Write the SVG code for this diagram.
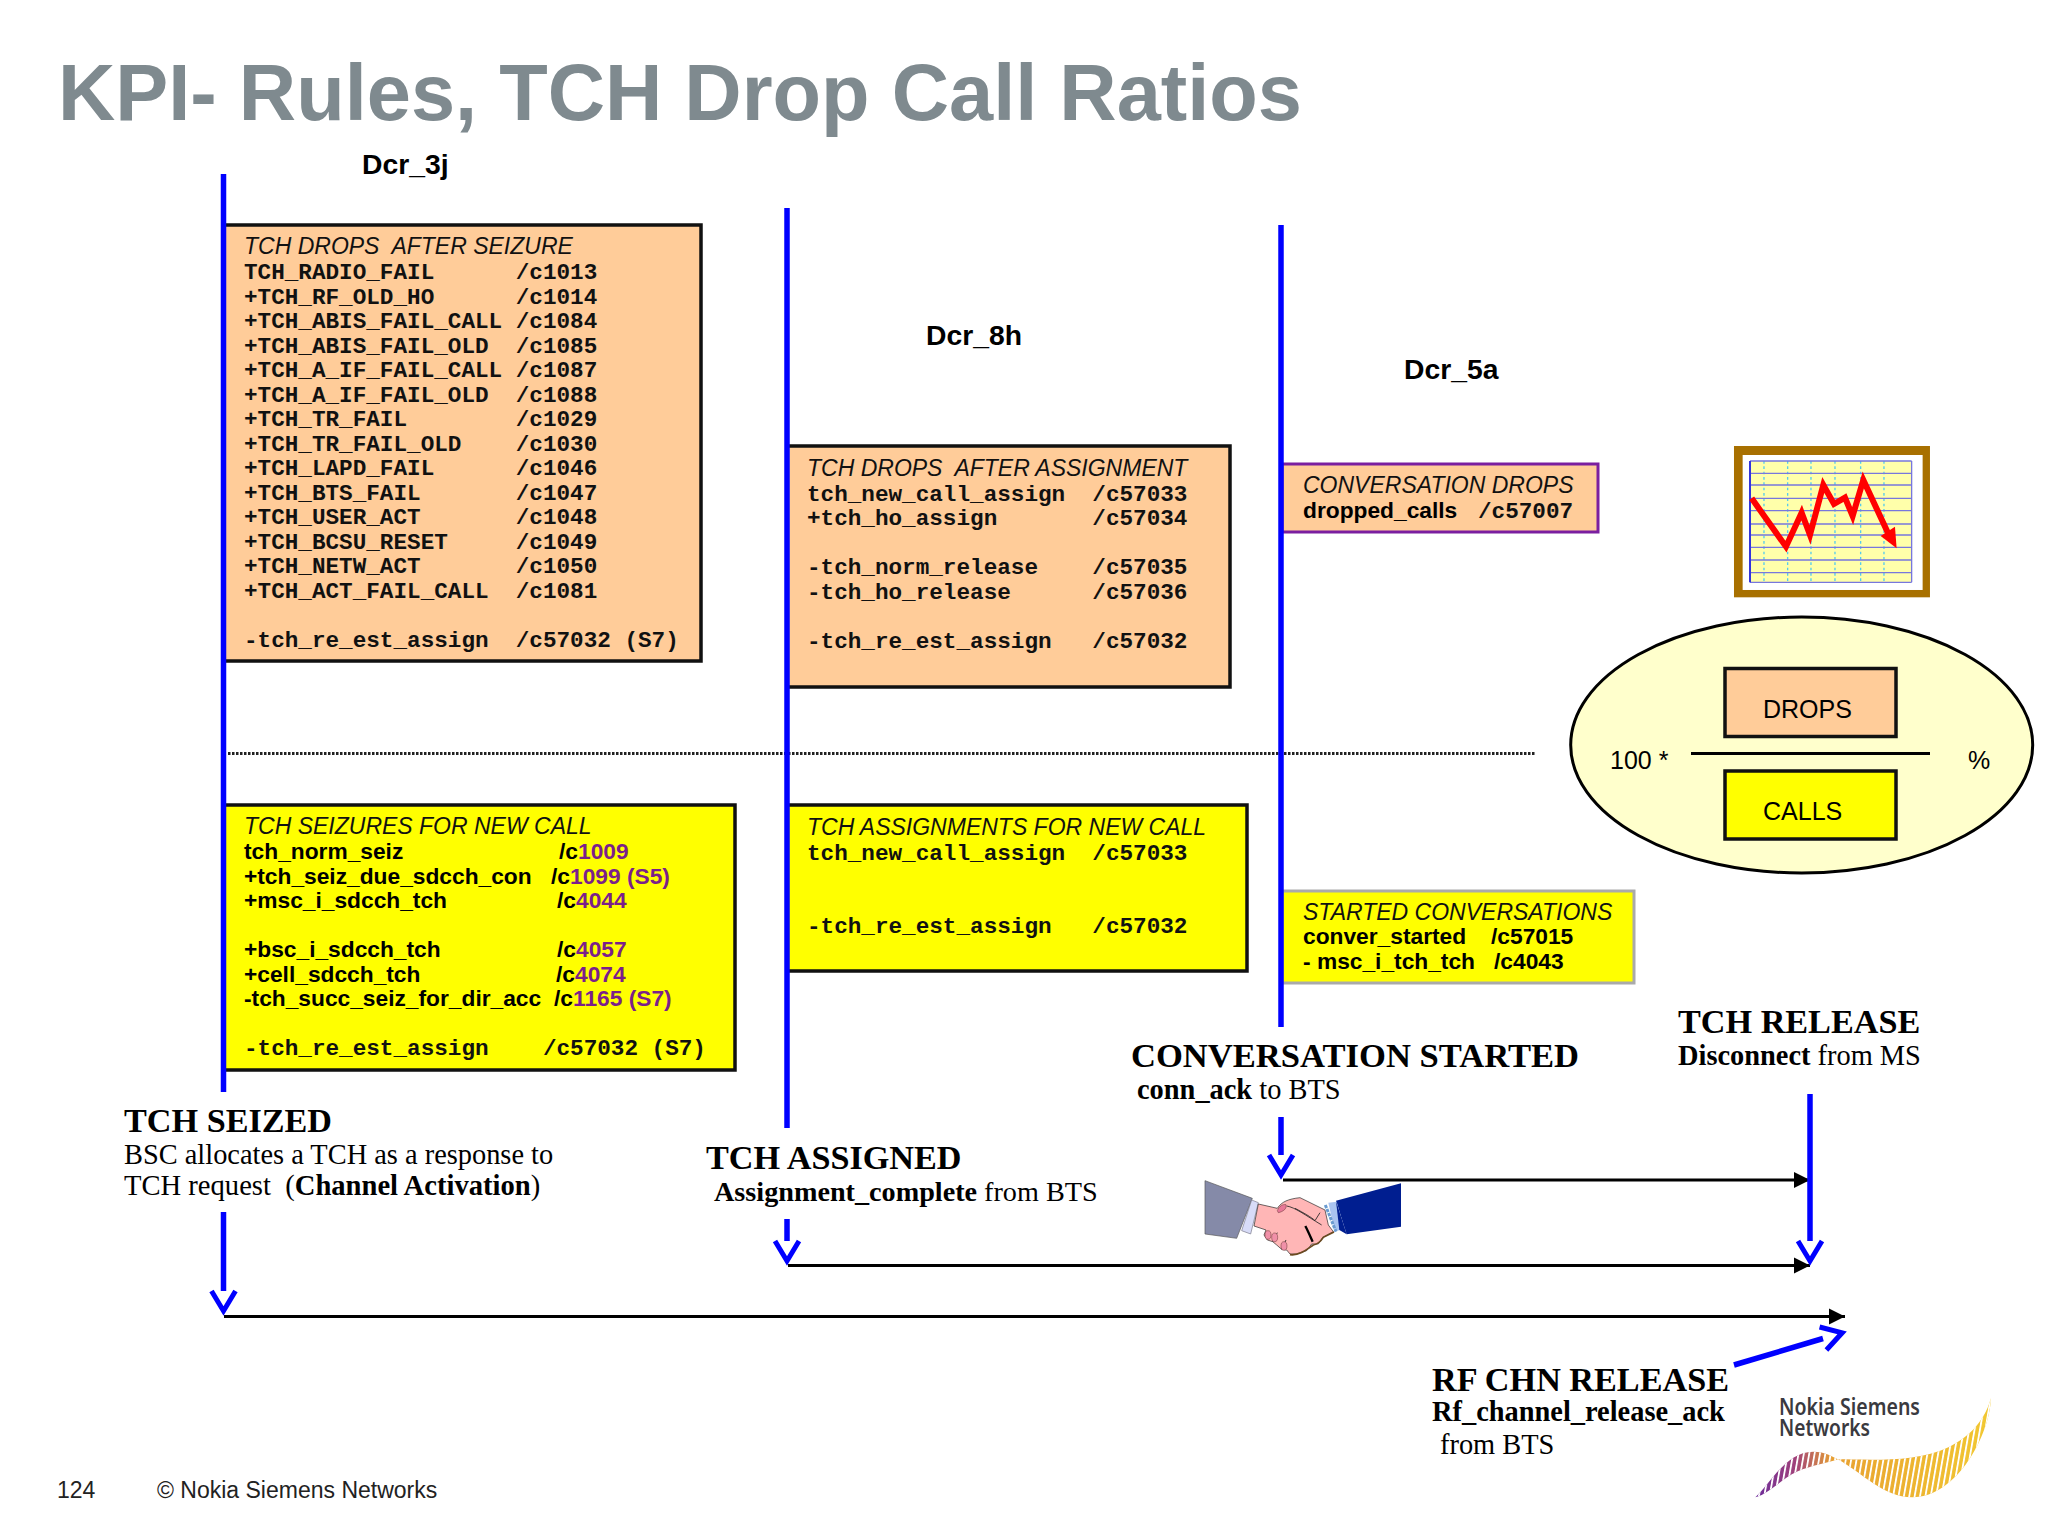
<svg xmlns="http://www.w3.org/2000/svg" width="2048" height="1536" viewBox="0 0 2048 1536">
<style>
text{white-space:pre}
.h{font:italic 23px "Liberation Sans",Arial,sans-serif;fill:#111}
.m{font:bold 22.65px "Liberation Mono","Courier New",monospace;fill:#111}
.b{font:bold 22.75px "Liberation Sans",Arial,sans-serif;fill:#000}
.p{fill:#7b1f8a}
.dcr{font:bold 28.3px "Liberation Sans",Arial,sans-serif;fill:#000}
.st{font:bold 34.2px "Liberation Serif","Times New Roman",serif;fill:#000}
.s{font:28.4px "Liberation Serif","Times New Roman",serif;fill:#000}
.sb{font-weight:bold}
.f{font:25px "Liberation Sans",Arial,sans-serif;fill:#000}
.o{fill:#ffcc99;stroke:#111;stroke-width:3.5}
.y{fill:#ffff00;stroke:#111;stroke-width:3.5}
.bl{fill:none;stroke:#0000ff;stroke-width:5.5}
.bk{fill:none;stroke:#000;stroke-width:3}
.logo{font:600 23px "Noto Sans","Liberation Sans",sans-serif;fill:#3a3a40}
.ft{font:23px "Liberation Sans",Arial,sans-serif;fill:#222}
</style>
<defs>
<marker id="open" markerUnits="userSpaceOnUse" markerWidth="44" markerHeight="44" viewBox="-6 -22 44 44" refX="0" refY="0" orient="auto"><path d="M0,-12 L20,0 L0,12" fill="none" stroke="#0000ff" stroke-width="5"/></marker>
<marker id="solid" markerUnits="userSpaceOnUse" markerWidth="20" markerHeight="20" viewBox="-16 -10 20 20" refX="0" refY="0" orient="auto"><path d="M-16,-8 L0,0 L-16,8 Z" fill="#000"/></marker>
<linearGradient id="wave" gradientUnits="userSpaceOnUse" x1="860" y1="0" x2="1430" y2="0"><stop offset="0" stop-color="#6a2a9a"/><stop offset=".17" stop-color="#a0407a"/><stop offset=".33" stop-color="#e8a030"/><stop offset="1" stop-color="#f2c830"/></linearGradient>
<pattern id="stripes" patternUnits="userSpaceOnUse" width="13" height="20" patternTransform="skewX(-8)"><rect width="4.5" height="20" fill="#fff"/></pattern>
</defs>
<rect width="2048" height="1536" fill="#fff"/>
<text x="58" y="120" style="font:bold 79.4px 'Liberation Sans',Arial,sans-serif;fill:#7f8a8f">KPI- Rules, TCH Drop Call Ratios</text>
<text class="dcr" x="362" y="174">Dcr_3j</text>
<text class="dcr" x="926" y="345">Dcr_8h</text>
<text class="dcr" x="1404" y="379">Dcr_5a</text>

<g id="box-drops-seizure">
<rect class="o" x="224" y="225" width="477" height="436"/>
<text class="h" x="244" y="254">TCH DROPS  AFTER SEIZURE</text>
<text class="m" x="244" y="279">TCH_RADIO_FAIL      /c1013</text>
<text class="m" x="244" y="303.5">+TCH_RF_OLD_HO      /c1014</text>
<text class="m" x="244" y="328">+TCH_ABIS_FAIL_CALL /c1084</text>
<text class="m" x="244" y="352.5">+TCH_ABIS_FAIL_OLD  /c1085</text>
<text class="m" x="244" y="377">+TCH_A_IF_FAIL_CALL /c1087</text>
<text class="m" x="244" y="401.5">+TCH_A_IF_FAIL_OLD  /c1088</text>
<text class="m" x="244" y="426">+TCH_TR_FAIL        /c1029</text>
<text class="m" x="244" y="450.5">+TCH_TR_FAIL_OLD    /c1030</text>
<text class="m" x="244" y="475">+TCH_LAPD_FAIL      /c1046</text>
<text class="m" x="244" y="499.5">+TCH_BTS_FAIL       /c1047</text>
<text class="m" x="244" y="524">+TCH_USER_ACT       /c1048</text>
<text class="m" x="244" y="548.5">+TCH_BCSU_RESET     /c1049</text>
<text class="m" x="244" y="573">+TCH_NETW_ACT       /c1050</text>
<text class="m" x="244" y="597.5">+TCH_ACT_FAIL_CALL  /c1081</text>
<text class="m" x="244" y="646.5">-tch_re_est_assign  /c57032 (S7)</text>
</g>

<g id="box-seizures">
<rect class="y" x="224" y="805" width="511" height="265"/>
<text class="h" x="244" y="834">TCH SEIZURES FOR NEW CALL</text>
<text class="b" x="244" y="859">tch_norm_seiz</text><text class="b" x="559" y="859">/c<tspan class="p">1009</tspan></text>
<text class="b" x="244" y="883.5">+tch_seiz_due_sdcch_con</text><text class="b" x="551" y="883.5">/c<tspan class="p">1099 (S5)</tspan></text>
<text class="b" x="244" y="908">+msc_i_sdcch_tch</text><text class="b" x="557" y="908">/c<tspan class="p">4044</tspan></text>
<text class="b" x="244" y="957">+bsc_i_sdcch_tch</text><text class="b" x="557" y="957">/c<tspan class="p">4057</tspan></text>
<text class="b" x="244" y="981.5">+cell_sdcch_tch</text><text class="b" x="556" y="981.5">/c<tspan class="p">4074</tspan></text>
<text class="b" x="244" y="1006">-tch_succ_seiz_for_dir_acc</text><text class="b" x="554" y="1006">/c<tspan class="p">1165 (S7)</tspan></text>
<text class="m" x="244" y="1055">-tch_re_est_assign    /c57032 (S7)</text>
</g>

<g id="box-drops-assignment">
<rect class="o" x="787" y="446" width="443" height="241"/>
<text class="h" x="807" y="476">TCH DROPS  AFTER ASSIGNMENT</text>
<text class="m" x="807" y="501">tch_new_call_assign  /c57033</text>
<text class="m" x="807" y="525">+tch_ho_assign       /c57034</text>
<text class="m" x="807" y="574">-tch_norm_release    /c57035</text>
<text class="m" x="807" y="599">-tch_ho_release      /c57036</text>
<text class="m" x="807" y="648">-tch_re_est_assign   /c57032</text>
</g>

<g id="box-assignments">
<rect class="y" x="787" y="805" width="460" height="166"/>
<text class="h" x="807" y="835">TCH ASSIGNMENTS FOR NEW CALL</text>
<text class="m" x="807" y="860">tch_new_call_assign  /c57033</text>
<text class="m" x="807" y="933">-tch_re_est_assign   /c57032</text>
</g>

<g id="box-conv-drops">
<rect x="1282" y="464" width="316" height="68" fill="#ffcc99" stroke="#7a1fa0" stroke-width="3"/>
<text class="h" x="1303" y="493">CONVERSATION DROPS</text>
<text class="b" x="1303" y="518">dropped_calls</text><text class="m" x="1478" y="518">/c57007</text>
</g>

<g id="box-started">
<rect x="1282" y="891" width="352" height="92" fill="#ffff00" stroke="#aaa" stroke-width="3"/>
<text class="h" x="1303" y="920">STARTED CONVERSATIONS</text>
<text class="b" x="1303" y="944">conver_started</text><text class="b" x="1491" y="944">/c57015</text>
<text class="b" x="1303" y="969">- msc_i_tch_tch</text><text class="b" x="1494" y="969">/c4043</text>
</g>

<g id="connectors">
<line x1="228" y1="753.5" x2="1536" y2="753.5" stroke="#222" stroke-width="3" stroke-dasharray="2.5 1.5"/>
<line class="bl" x1="223.5" y1="174" x2="223.5" y2="1092"/>
<line class="bl" x1="787" y1="208" x2="787" y2="1128"/>
<line class="bl" x1="1281" y1="225" x2="1281" y2="1027"/>
<line class="bk" x1="1283" y1="1180" x2="1810" y2="1180" marker-end="url(#solid)"/>
<line class="bk" x1="788" y1="1265.5" x2="1810" y2="1265.5" marker-end="url(#solid)"/>
<line class="bk" x1="224" y1="1316.5" x2="1845" y2="1316.5" marker-end="url(#solid)"/>
<line class="bl" x1="223.5" y1="1212" x2="223.5" y2="1291" marker-end="url(#open)"/>
<line class="bl" x1="787" y1="1219" x2="787" y2="1241" marker-end="url(#open)"/>
<line class="bl" x1="1281" y1="1117" x2="1281" y2="1155" marker-end="url(#open)"/>
<line class="bl" x1="1810" y1="1094" x2="1810" y2="1241" marker-end="url(#open)"/>
<line class="bl" x1="1734" y1="1365" x2="1823" y2="1338.5" stroke-width="6" marker-end="url(#open)"/>
</g>

<g id="label-seized">
<text class="st" x="124" y="1132">TCH SEIZED</text>
<text class="s" x="124" y="1164">BSC allocates a TCH as a response to</text>
<text class="s" x="124" y="1195" style="font-size:28.6px">TCH request  (<tspan class="sb">Channel Activation</tspan>)</text>
</g>
<g id="label-assigned">
<text class="st" x="706" y="1169">TCH ASSIGNED</text>
<text class="s" x="714" y="1201" style="font-size:28.2px"><tspan class="sb">Assignment_complete</tspan> from BTS</text>
</g>
<g id="label-conv">
<text class="st" x="1131" y="1067" style="font-size:34.6px">CONVERSATION STARTED</text>
<text class="s" x="1137" y="1099"><tspan class="sb">conn_ack</tspan> to BTS</text>
</g>
<g id="label-release">
<text class="st" x="1678" y="1033">TCH RELEASE</text>
<text class="s" x="1678" y="1065"><tspan class="sb">Disconnect</tspan> from MS</text>
</g>
<g id="label-rf">
<text class="st" x="1432" y="1391">RF CHN RELEASE</text>
<text class="s sb" x="1432" y="1421">Rf_channel_release_ack</text>
<text class="s" x="1440" y="1454">from BTS</text>
</g>

<g id="formula">
<ellipse cx="1801.7" cy="745" rx="231" ry="128" fill="#ffffcc" stroke="#000" stroke-width="3"/>
<rect class="o" x="1725" y="668.5" width="171" height="68" stroke="#000"/>
<rect class="y" x="1725" y="771" width="171" height="68" stroke="#000"/>
<line x1="1691" y1="753.5" x2="1930" y2="753.5" stroke="#000" stroke-width="3"/>
<text class="f" x="1763" y="718">DROPS</text>
<text class="f" x="1763" y="820">CALLS</text>
<text class="f" x="1610" y="769">100 *</text>
<text class="f" x="1968" y="769">%</text>
</g>

<g id="chart" transform="translate(1560,430) scale(.3333)">
<rect x="522" y="48" width="588" height="454" fill="#a87000"/>
<rect x="548" y="75" width="540" height="405" fill="#fff"/>
<rect x="570" y="93" width="485" height="364" fill="#ffffaa"/>
<path d="M612,93V457M683,93V457M753,93V457M825,93V457M902,93V457M972,93V457" stroke="#55ccee" stroke-width="4" stroke-dasharray="8 8" fill="none"/>
<path d="M570,130H1055M570,165H1055M570,205H1055M570,242H1055M570,282H1055M570,315H1055M570,352H1055M570,390H1055M570,428H1055M570,457H1055M570,93H1055M1055,93V457" stroke="#7777dd" stroke-width="4" fill="none"/>
<path d="M570,93V457" stroke="#3333dd" stroke-width="6" fill="none"/>
<path d="M575,205L678,350L725,248L750,315L790,165L822,222L855,203L878,258L910,150L990,322" fill="none" stroke="#ff0000" stroke-width="18"/>
<path d="M1010,355L962,318L1005,290Z" fill="#ff0000"/>
</g>

<g id="handshake" transform="translate(1180,1130) scale(.3333)">
<path d="M75,152L217,205L170,325L75,312Z" fill="#858aa8" stroke="#555" stroke-width="2"/>
<path d="M468,212L663,160L663,290L500,313Z" fill="#001e90"/>
<path d="M215,210L235,218L212,312L185,302Z" fill="#d8dcf8" stroke="#778" stroke-width="2"/>
<path d="M235,222L292,235C305,215 325,207 360,203L435,240L445,285L460,305L428,322L415,342L395,342L380,362L350,372L330,372L320,360L305,358L290,345L278,335L262,330L252,315L258,300L222,288Z" fill="#ffb6b6" stroke="#222" stroke-width="2"/>
<path d="M330,374C360,378 385,355 400,345C415,342 425,330 430,322L462,306" fill="none" stroke="#6b4a20" stroke-width="5"/>
<path d="M445,218L470,215L493,295L465,305Z" fill="#a9c4f0"/>
<path d="M436,225L450,260L468,305" fill="none" stroke="#6a9bd0" stroke-width="9" stroke-dasharray="10 3"/>
<path d="M468,212L500,313L478,300Z" fill="#001e90"/>
<path d="M320,228C345,232 375,255 425,285M345,235C370,248 395,262 405,272L420,248M278,335L292,308M305,358L318,330" fill="none" stroke="#222" stroke-width="2.5"/>
<path d="M376,288C385,305 392,322 398,335" stroke="#000" stroke-width="7" fill="none"/>
<path d="M292,242C298,228 308,222 318,224C322,235 310,245 295,248Z" fill="#e87898" stroke="#633" stroke-width="1.5"/>
<ellipse cx="264" cy="315" rx="9" ry="13" fill="#f090a8" stroke="#633" stroke-width="1.5"/>
<ellipse cx="284" cy="322" rx="9" ry="13" fill="#f090a8" stroke="#633" stroke-width="1.5"/>
<ellipse cx="312" cy="348" rx="9" ry="13" fill="#f090a8" stroke="#633" stroke-width="1.5"/>
</g>

<g id="footer">
<text class="ft" x="57" y="1498">124</text>
<text class="ft" x="157" y="1498">© Nokia Siemens Networks</text>
</g>

<g id="logo">
<text class="logo" x="1779" y="1415" textLength="141" lengthAdjust="spacingAndGlyphs">Nokia Siemens</text>
<text class="logo" x="1779" y="1436" textLength="91" lengthAdjust="spacingAndGlyphs">Networks</text>
<g transform="translate(1400,1300) scale(.4132,.3333)">
<path d="M860,592C900,545 935,455 1000,455C1030,455 1045,470 1060,478C1130,478 1250,490 1330,440C1395,400 1420,340 1430,295C1428,400 1350,592 1240,592C1170,592 1120,520 1060,478C1030,490 1000,495 960,515C925,535 895,580 860,592Z" fill="url(#wave)"/>
<path d="M860,592C900,545 935,455 1000,455C1030,455 1045,470 1060,478C1130,478 1250,490 1330,440C1395,400 1420,340 1430,295C1428,400 1350,592 1240,592C1170,592 1120,520 1060,478C1030,490 1000,495 960,515C925,535 895,580 860,592Z" fill="url(#stripes)"/>
</g>
</g>
</svg>
